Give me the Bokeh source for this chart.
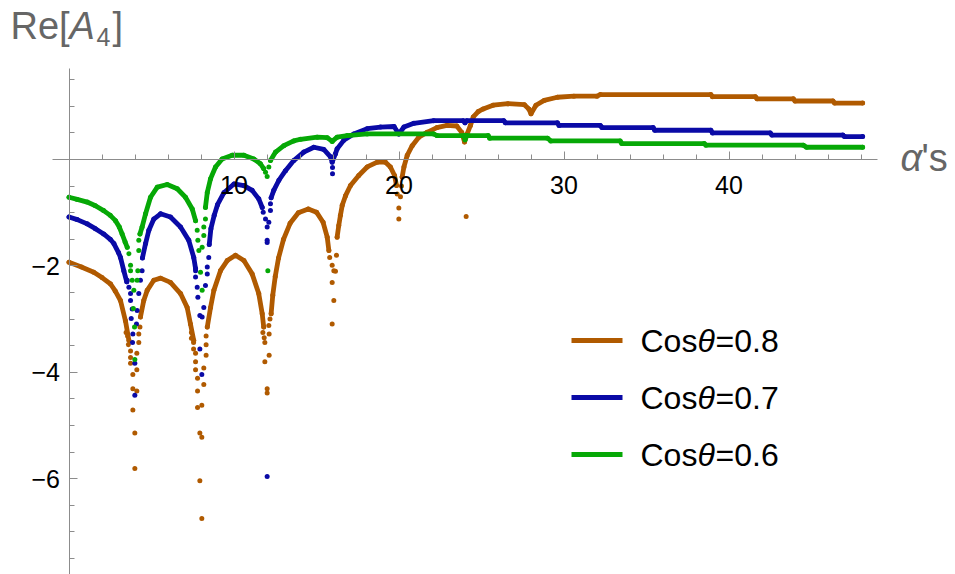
from bokeh.plotting import figure
from bokeh.models import LinearAxis, FixedTicker, Range1d, Label, BoxAnnotation
from bokeh.embed import file_html
from bokeh.resources import INLINE

nan = float("nan")

# ---------------- data ----------------
series_names = ["Cos\u03b8=0.8", "Cos\u03b8=0.7", "Cos\u03b8=0.6"]
series_colors = ["#B05A00", "#0A0AA6", "#06A806"]

# Cos(theta)=0.8 : dense parts (nan separates the arches)
brown_x = [0, 0.75, 1.5, 2.0, 2.52, 2.8, 3.12, 3.42, 3.63, nan,
           4.33, 4.53, 4.74, 5.14, 5.55, 6.15, 6.76, 7.16, 7.36, 7.56, nan,
           8.38, 8.58, 8.78, 9.18, 9.59, 10.09, 10.6, 11.1, 11.5, 11.71, 11.8, nan,
           12.25, 12.35, 12.5, 12.7, 13.0, 13.4, 13.9, 14.5, 15.0, 15.4, 15.65, 15.75, nan,
           16.25, 16.35, 16.45, 16.56, 16.76, 17.06, 17.56, 18.07, 18.68, 19.18, 19.48, 19.73, 19.85, nan,
           20.19, 20.3, 20.5, 20.8, 21.2, 21.7, 22.3, 22.9, 23.5, 23.8, 23.97,
           24.13, 24.33, 24.5, 24.8, 25.1, 25.7, 26.6, 27.6, 27.87, 28.0,
           28.3, 28.8, 29.6, 30.6, 32.0, 32.2, 38.9, 39.0, 41.6, 41.7, 43.9, 44.0, 46.3, 46.4, 48.1]
brown_y = [-1.93, -2.02, -2.12, -2.22, -2.34, -2.47, -2.65, -3.03, -3.40, nan,
           -2.96, -2.65, -2.46, -2.27, -2.23, -2.31, -2.52, -2.78, -3.09, -3.40, nan,
           -3.15, -2.78, -2.46, -2.09, -1.90, -1.80, -1.90, -2.15, -2.52, -2.90, -3.15, nan,
           -2.90, -2.55, -2.20, -1.85, -1.50, -1.20, -1.00, -0.93, -0.99, -1.18, -1.46, -1.71, nan,
           -1.46, -1.24, -1.05, -0.86, -0.68, -0.49, -0.30, -0.14, -0.05, -0.05, -0.14, -0.30, -0.49, nan,
           -0.33, -0.14, 0.08, 0.26, 0.42, 0.51, 0.60, 0.64, 0.63, 0.51, 0.33,
           0.48, 0.64, 0.80, 0.90, 0.95, 1.02, 1.05, 1.03, 0.95, 0.86,
           1.02, 1.11, 1.17, 1.19, 1.19, 1.22, 1.22, 1.18, 1.18, 1.14, 1.14, 1.10, 1.10, 1.06, 1.06]
# Cos(theta)=0.8 : isolated dots near the cusps
brown_dip_x = [3.46, 3.55, 3.60, 3.73, 3.73, 3.73, 3.87, 3.87, 3.87, 3.99, 3.99,
               4.23, 4.23, 4.11, 4.11, 4.11, 4.30,
               7.42, 7.42, 7.55, 7.55, 7.67, 7.67, 7.67, 7.79, 7.79, 7.79, 7.93, 7.93,
               8.31, 8.31, 8.31, 8.17, 8.17, 8.05, 8.05, 8.05,
               11.75, 11.83, 11.87, 11.87, 12.01, 12.01, 12.13, 12.13, 12.11, 12.18,
               15.80, 15.95, 16.05, 15.95, 16.05, 15.95, 16.21, 16.15,
               19.89, 20.09, 19.99, 19.99, 20.15,
               24.07]
brown_dip_y = [-3.25, -3.32, -3.48, -3.60, -3.72, -3.83, -4.04, -4.31, -4.71, -5.14, -5.81,
               -3.28, -3.44, -3.64, -3.95, -4.35, -3.15,
               -3.25, -3.36, -3.44, -3.56, -3.64, -3.80, -3.95, -4.11, -4.35, -4.66, -5.14, -6.04,
               -3.32, -3.48, -3.68, -3.92, -4.23, -4.62, -5.22, -6.75,
               -3.25, -3.35, -3.44, -3.80, -4.31, -4.39, -3.68, -3.28, -3.12, -3.00,
               -1.84, -1.99, -2.09, -2.31, -2.65, -3.09, -1.80, -2.10,
               -0.65, -0.70, -0.91, -1.12, -0.50,
               -1.07]

# Cos(theta)=0.7
blue_x = [0, 0.5, 1.1, 1.6, 2.1, 2.5, 2.72, 3.0, 3.12, 3.32, 3.5, nan,
          4.45, 4.64, 4.84, 5.14, 5.55, 6.15, 6.76, 7.26, 7.56, 7.67, nan,
          8.5, 8.6, 8.8, 9.0, 9.4, 10.0, 10.6, 11.1, 11.5, 11.71, nan,
          12.25, 12.41, 12.72, 13.12, 13.62, 14.23, 14.84, 15.44, 15.85, 15.95,
          16.15, 16.25, 16.65, 17.26, 18.07, 18.88, 19.7, 19.99, 20.3, 20.9, 22.1, 23.9, 24.0, 24.1,
          26.35, 26.45, 29.6, 29.7, 32.2, 32.3, 35.4, 35.5, 38.9, 39.0, 42.5, 42.6, 46.9, 47.0, 48.1]
blue_y = [-1.08, -1.13, -1.21, -1.30, -1.40, -1.50, -1.58, -1.75, -1.84, -2.09, -2.30, nan,
          -1.85, -1.58, -1.33, -1.12, -1.02, -1.08, -1.27, -1.52, -1.84, -2.05, nan,
          -1.60, -1.30, -1.05, -0.85, -0.62, -0.46, -0.49, -0.58, -0.74, -0.90, nan,
          -0.72, -0.58, -0.39, -0.21, -0.02, 0.14, 0.23, 0.19, 0.05, -0.05,
          0.11, 0.20, 0.36, 0.48, 0.58, 0.61, 0.62, 0.48, 0.61, 0.68, 0.73, 0.73, 0.69, 0.73,
          0.73, 0.69, 0.69, 0.64, 0.64, 0.60, 0.60, 0.55, 0.55, 0.50, 0.50, 0.46, 0.46, 0.43, 0.43]
blue_dip_x = [3.53, 3.63, 3.73, 3.73, 3.83, 3.77, 3.87, 3.85, 3.99, 3.99, 4.09, 4.13, 4.23, 4.33, 4.43,
              7.67, 7.67, 7.77, 7.81, 7.93, 8.07, 7.93, 8.05, 8.17, 8.27, 8.38, 8.38, 8.47,
              11.77, 11.91, 12.01, 12.01, 12.01, 12.11, 12.21, 12.21, 12.01,
              15.97, 15.97]
blue_dip_y = [-2.27, -2.40, -2.52, -2.65, -2.81, -2.99, -3.28, -3.44, -3.83, -4.43, -3.09, -2.84, -2.52, -2.27, -2.09,
              -2.09, -2.21, -2.40, -2.59, -2.93, -2.96, -3.56, -4.04, -2.78, -2.37, -2.15, -2.02, -1.84,
              -0.99, -1.12, -1.27, -1.52, -1.56, -1.18, -0.96, -0.83, -5.96,
              -0.15, -0.27]

# Cos(theta)=0.6
green_x = [0, 0.5, 1.1, 1.6, 2.1, 2.5, 2.82, 3.05, 3.22, 3.4, 3.53, nan,
           4.3, 4.43, 4.64, 4.94, 5.35, 5.95, 6.56, 7.06, 7.47, 7.67, nan,
           8.27, 8.38, 8.58, 8.88, 9.28, 9.89, 10.6, 11.2, 11.6, 11.8, nan,
           12.21, 12.52, 13.02, 13.62, 14.03, 15.04, 15.65, 15.95, 16.25, 16.86, 18.07, 22.1, 22.3,
           23.95, 24.0, 24.1, 25.4, 25.5, 29.0, 29.2, 33.4, 33.5, 38.5, 38.6, 44.5, 44.7, 48.1]
green_y = [-0.71, -0.75, -0.80, -0.87, -0.96, -1.05, -1.15, -1.27, -1.40, -1.55, -1.65, nan,
           -1.40, -1.27, -1.02, -0.71, -0.52, -0.47, -0.55, -0.71, -0.93, -1.15, nan,
           -0.90, -0.62, -0.36, -0.14, 0.01, 0.08, 0.08, 0.01, -0.08, -0.17, nan,
           -0.02, 0.14, 0.26, 0.35, 0.38, 0.42, 0.41, 0.34, 0.42, 0.45, 0.48, 0.48, 0.45,
           0.45, 0.37, 0.45, 0.45, 0.40, 0.40, 0.35, 0.35, 0.30, 0.30, 0.27, 0.27, 0.23, 0.23]
green_dip_x = [3.63, 3.73, 3.73, 3.83, 3.93, 3.90, 3.97, 3.99, 4.13, 4.17, 4.23, 4.23,
               7.77, 7.81, 7.87, 7.97, 8.07, 8.07, 8.17, 8.17, 8.27,
               11.91, 12.01, 12.05, 12.11]
green_dip_y = [-1.77, -1.99, -2.09, -2.27, -2.46, -2.80, -3.15, -3.76, -2.27, -2.09, -1.71, -1.52,
               -1.33, -1.52, -1.71, -2.12, -2.46, -1.65, -1.43, -1.27, -1.12,
               -0.24, -0.32, -2.09, -0.14]

x_major_ticks = [10, 20, 30, 40]
x_minor_ticks = [0, 2, 4, 6, 8, 10, 12, 14, 16, 18, 20, 22, 24, 26, 28, 30, 32, 34, 36, 38, 40, 42, 44, 46, 48]
y_major_ticks = [-6, -4, -2]
y_minor_ticks = [-7.5, -7, -6.5, -6, -5.5, -5, -4.5, -4, -3.5, -3, -2.5, -2, -1.5, -1, -0.5, 0, 0.5, 1, 1.5]
y_tick_labels = {-6: "\u22126", -4: "\u22124", -2: "\u22122"}

# ---------------- layout ----------------
W, H = 955, 574
# pixel mapping of the reference: x=0 at 68.5px, 16.5 px/unit; y=0 at 159px, 53.2 px/unit
X0, SX, Y0, SY = 68.5, 16.5, 159.0, 53.2
def dx(px):
    return (px - X0) / SX
def dy(py):
    return (Y0 - py) / SY

p = figure(width=W, height=H, output_backend="svg", toolbar_location=None,
           x_axis_location=None, y_axis_location=None, min_border=0,
           x_range=Range1d(dx(0), dx(W)), y_range=Range1d(dy(H), dy(0)))
p.grid.visible = False
p.outline_line_color = None
p.background_fill_color = "white"
p.border_fill_color = "white"

GRAY = "#8c8c8c"
FONT = "Liberation Sans"

xaxis = LinearAxis(fixed_location=0, bounds=(-1.0, 49.0),
                   ticker=FixedTicker(ticks=x_major_ticks, minor_ticks=x_minor_ticks),
                   axis_line_color=GRAY, axis_line_width=1,
                   major_tick_line_color=GRAY, minor_tick_line_color=GRAY,
                   major_tick_in=8, major_tick_out=0, minor_tick_in=5, minor_tick_out=0,
                   major_label_text_font=FONT, major_label_text_font_size="25px",
                   major_label_text_color="black", major_label_standoff=16)
p.add_layout(xaxis, "below")

yaxis = LinearAxis(fixed_location=0, bounds=(-8.0, 1.71),
                   ticker=FixedTicker(ticks=y_major_ticks, minor_ticks=y_minor_ticks),
                   major_label_overrides=y_tick_labels,
                   axis_line_color=GRAY, axis_line_width=1,
                   major_tick_line_color=GRAY, minor_tick_line_color=GRAY,
                   major_tick_in=8, major_tick_out=0, minor_tick_in=5, minor_tick_out=0,
                   major_label_text_font=FONT, major_label_text_font_size="25px",
                   major_label_text_color="black", major_label_standoff=9)
p.add_layout(yaxis, "left")

data = [(brown_x, brown_y, brown_dip_x, brown_dip_y),
        (blue_x, blue_y, blue_dip_x, blue_dip_y),
        (green_x, green_y, green_dip_x, green_dip_y)]
for (xs, ys, dxs, dys), col in zip(data, series_colors):
    p.line(xs, ys, line_color=col, line_width=4.8, line_cap="round", line_join="round")
    p.scatter([v for v in xs if v == v], [v for v in ys if v == v], size=5,
              fill_color=col, line_color=None)
    p.scatter(dxs, dys, size=5, fill_color=col, line_color=None)

def lab(text, px, baseline_py, size, color="#666666", style="normal"):
    # Label anchors on the middle of its text box; shift so the baseline lands at baseline_py
    p.add_layout(Label(x=dx(px), y=dy(baseline_py - 0.37 * size), text=text, text_font=FONT,
                       text_font_size=f"{size}px", text_color=color,
                       text_font_style=style, text_align="left",
                       text_baseline="middle"))

# axis titles
lab("Re[", 10, 40, 38)
lab("A", 69, 40, 38, style="italic")
lab("4", 96, 46, 25)
lab("]", 112, 40, 38)
lab("\u03b1", 900, 172, 38, style="italic")
lab("'s", 921, 172, 38)

# legend
rows_y = [340, 397, 454]
for name, col, ry in zip(series_names, series_colors, rows_y):
    p.add_layout(BoxAnnotation(left=dx(571), right=dx(622), top=dy(ry - 2.5), bottom=dy(ry + 2.5),
                               fill_color=col, fill_alpha=1.0, line_color=None))
    pre, post = name.split("\u03b8")
    lab(pre, 640, ry + 12, 32, color="black")
    lab("\u03b8", 697, ry + 12, 32, color="black", style="italic")
    lab(post, 715, ry + 12, 32, color="black")

open("out.html", "w").write(file_html(p, INLINE))
